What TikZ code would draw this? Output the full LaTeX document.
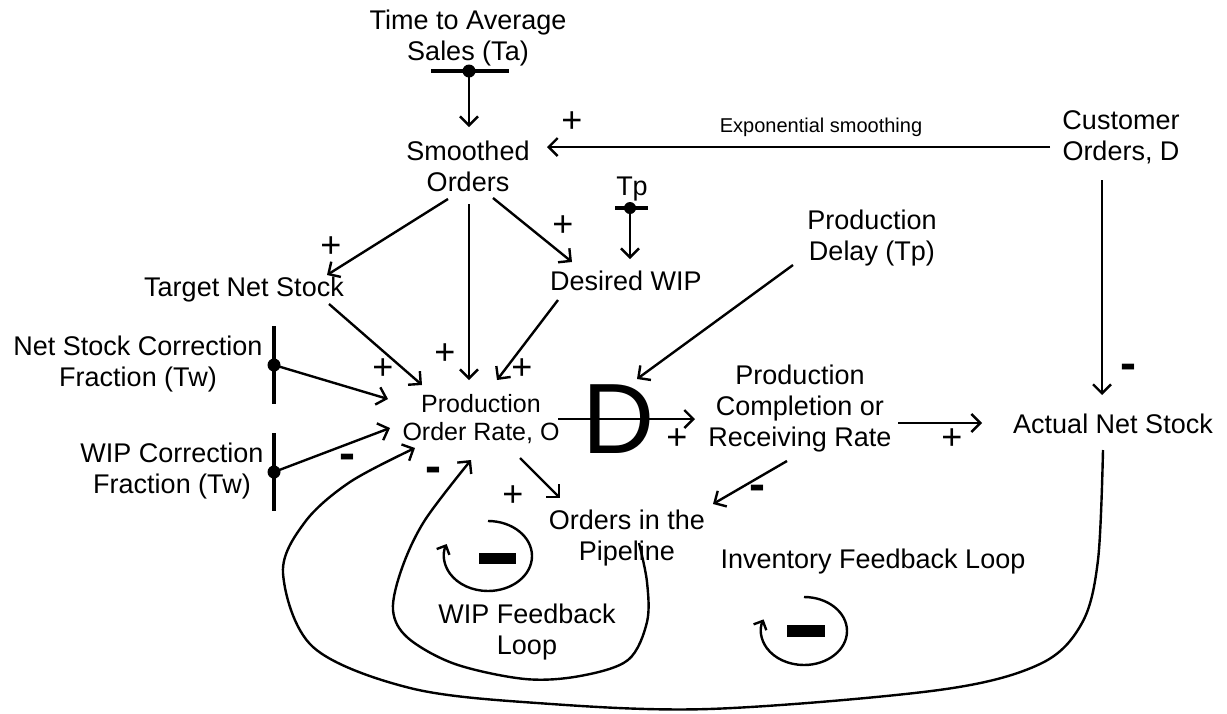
\documentclass[tikz,border=0pt]{standalone}
\usepackage{fontspec}
\setmainfont{Liberation Sans}
\usetikzlibrary{arrows.meta,calc}
\begin{document}
\begin{tikzpicture}[x=1pt,y=-1pt,
  lbl/.style={inner sep=0pt, align=center, font=\fontsize{27}{31}\selectfont},
  sgn/.style={inner sep=0pt, font=\fontsize{36}{36}\selectfont},
  neg/.style={inner sep=0pt, font=\fontsize{48}{48}\selectfont\bfseries},
  arr/.style={line width=2.4pt, -{Straight Barb[length=9pt,width=18pt]}},
  bar/.style={line width=3.4pt},
  dotn/.style={circle, fill=black, inner sep=0pt, minimum size=13pt},
  looparr/.style={line width=2.4pt, -{Straight Barb[length=7pt,width=14pt]}}
]
\useasboundingbox (0,0) rectangle (1227,713);
\fill[white] (0,0) rectangle (1227,713);

% text nodes
\node[lbl] (ta) at (468,38) {Time to Average\\Sales (Ta)};
\node[lbl] (so) at (468,166) {Smoothed\\Orders};
\node[lbl] (co) at (1121,137) {Customer\\Orders, D};
\node[inner sep=0pt, font=\fontsize{20}{20}\selectfont] (expl) at (821,127) {Exponential smoothing};
\node[lbl] (tns) at (244,290) {Target Net Stock};
\node[lbl] (dwip) at (626,281) {Desired WIP};
\node[lbl] (tp) at (632,189) {Tp};
\node[lbl] (pd) at (872,238) {Production\\Delay (Tp)};
\node[lbl] (nsc) at (138,364) {Net Stock Correction\\Fraction (Tw)};
\node[lbl] (wipc) at (172,471) {WIP Correction\\Fraction (Tw)};
\node[lbl, font=\fontsize{25}{28}\selectfont] (por) at (481,419) {Production\\Order Rate, O};
\node[inner sep=0pt, font=\fontsize{100}{100}\selectfont] (D) at (619,419) {D};
\node[lbl] (pcr) at (800,409) {Production\\Completion or\\Receiving Rate};
\node[lbl] (ans) at (1113,424) {Actual Net Stock};
\node[lbl] (oip) at (627,538) {Orders in the\\Pipeline};
\node[lbl] (wipl) at (527,632) {WIP Feedback\\Loop};
\node[lbl] (ifl) at (873,562) {Inventory Feedback Loop};

% parameter bars and dots
\draw[bar] (431,71) -- (509,71);
\node[dotn] (taDot) at (469,71) {};
\draw[bar] (615,208) -- (648,208);
\node[dotn, minimum size=12pt] (tpDot) at (630,208) {};
\draw[bar] (274,326) -- (274,404);
\node[dotn] (nscDot) at (274,365) {};
\draw[bar] (274,433) -- (274,511);
\node[dotn] (wipcDot) at (274,472) {};

% connectors
\draw[arr] (taDot.center) -- ($(so)+(1,-39)$);
\draw[arr] ($(co)+(-71,10)$) -- ($(so)+(79,-19)$);
\draw[arr] ($(so)+(-20,33)$) -- ($(tns)+(83,-15)$);
\draw[arr] ($(so)+(1,38)$) -- ($(por)+(-12,-39)$);
\draw[arr] ($(so)+(25,32)$) -- ($(dwip)+(-54,-19)$);
\draw[arr] (tpDot.center) -- ($(dwip)+(4,-22)$);
\draw[arr] ($(tns)+(85,14)$) -- ($(por)+(-59,-34)$);
\draw[arr] ($(dwip)+(-68,19)$) -- ($(por)+(16,-39)$);
\draw[arr] (nscDot.center) -- ($(por)+(-93,-20)$);
\draw[arr] (wipcDot.center) -- ($(por)+(-91,9)$);
\draw[arr] ($(pd)+(-79,27)$) -- ($(D)+(18,-40)$);
\draw[arr] ($(por)+(77,0)$) -- ($(pcr)+(-105,10)$);
\draw[arr] ($(pcr)+(98,14)$) -- ($(ans)+(-131,-1)$);
\draw[arr] ($(co)+(-19,43)$) -- ($(ans)+(-11,-29)$);
\draw[arr] ($(por)+(39,39)$) -- ($(oip)+(-67,-40)$);
\draw[arr] ($(pcr)+(-13,52)$) -- ($(oip)+(86,-34)$);

% outer inventory loop
\draw[arr] plot[smooth, tension=0.55] coordinates {($(ans)+(-10,26)$) (1098,560) (1082,623) (1040,664) (939,690) (709,709) (537,703) (410,688) (313,647) (283,573) (305,522) (350,482) ($(por)+(-66,29)$)};
% WIP loop
\draw[arr] plot[smooth, tension=0.55] coordinates {($(oip)+(12,5)$) (647,582) (647,622) (628,660) (580,676) (525,679) (455,664) (408,638) (393,610) (402,568) (425,520) ($(por)+(-10,41)$)};

% loop symbols
\draw[looparr] (488,521) arc[start angle=90, end angle=-200, x radius=44pt, y radius=35pt];
\fill (479,553) rectangle (516,564);
\draw[looparr] (804,597) arc[start angle=90, end angle=-200, x radius=43pt, y radius=34pt];
\fill (787,625) rectangle (825,637);

% polarity signs
\node[sgn] at (572,122) {+};
\node[sgn] at (331,247) {+};
\node[sgn] at (563,226) {+};
\node[sgn] at (383,369) {+};
\node[sgn] at (445,354) {+};
\node[sgn] at (522,369) {+};
\node[sgn] at (677,439) {+};
\node[sgn] at (952,439) {+};
\node[sgn] at (513,496) {+};
\node[neg] at (1128,372) {-};
\node[neg] at (347,462) {-};
\node[neg] at (433,475) {-};
\node[neg] at (757,493) {-};
\end{tikzpicture}
\end{document}
